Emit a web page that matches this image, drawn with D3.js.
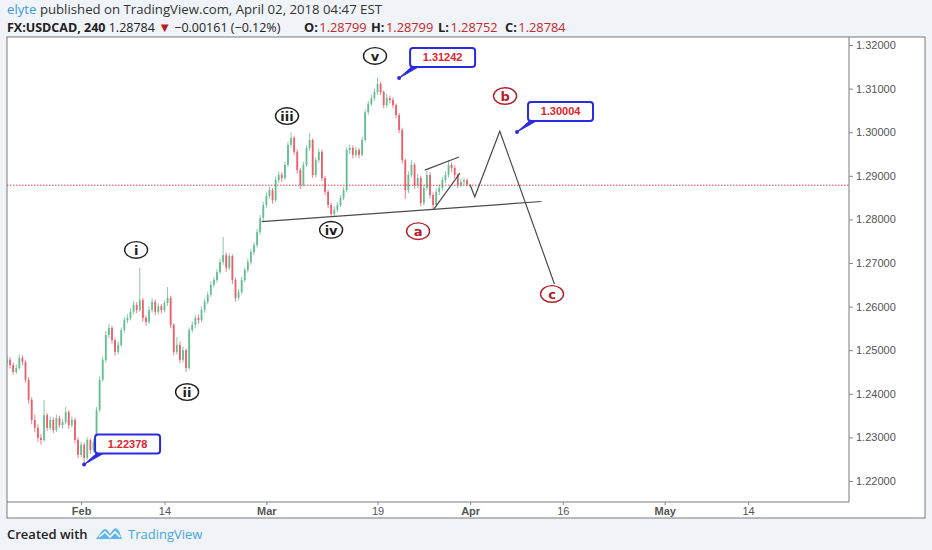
<!DOCTYPE html>
<html>
<head>
<meta charset="utf-8">
<script src="https://cdn.jsdelivr.net/npm/d3@7"></script>
<style>
  body { margin: 0; background: #f0f3f7; }
  svg { display: block; font-family: "Liberation Sans", Arial, sans-serif; }
</style>
</head>
<body>
<svg id="chart" width="932" height="550"></svg>
<script>
// --- Data: FX:USDCAD candles (3 bars per trading day, day 0 = Jan 22 2018) ---
const barsPerDay = 3;
const firstOpen = 1.2470;
const closes = [
  1.2478,1.2466,1.2450,1.2459,1.2482,1.2473,1.2432,1.2386,1.2340,1.2322,
  1.2299,1.2294,1.2351,1.2322,1.2340,1.2317,1.2344,1.2328,1.2335,1.2358,
  1.2328,1.2340,1.2294,1.2260,1.2283,1.2253,1.2294,1.2271,1.2289,1.2363,
  1.2432,1.2478,1.2535,1.2551,1.2523,1.2496,1.2512,1.2546,1.2569,1.2574,
  1.2588,1.2604,1.2592,1.2615,1.2574,1.2565,1.2592,1.2611,1.2588,1.2601,
  1.2592,1.2608,1.2620,1.2558,1.2496,1.2512,1.2478,1.2500,1.2459,1.2546,
  1.2558,1.2574,1.2569,1.2592,1.2611,1.2627,1.2650,1.2661,1.2679,1.2702,
  1.2718,1.2689,1.2716,1.2661,1.2620,1.2633,1.2661,1.2684,1.2702,1.2725,
  1.2741,1.2771,1.2803,1.2833,1.2854,1.2867,1.2844,1.2890,1.2902,1.2895,
  1.2925,1.2971,1.2987,1.2955,1.2913,1.2879,1.2925,1.2964,1.2982,1.2902,
  1.2936,1.2955,1.2895,1.2863,1.2833,1.2812,1.2822,1.2833,1.2849,1.2867,
  1.2959,1.2964,1.2948,1.2959,1.2948,1.2982,1.3046,1.3065,1.3078,1.3092,
  1.3111,1.3092,1.3062,1.3078,1.3074,1.3062,1.3039,1.3005,1.2936,1.2867,
  1.2902,1.2925,1.2879,1.2895,1.2838,1.2872,1.2902,1.2856,1.2833,1.2863,
  1.2872,1.2890,1.2902,1.2925,1.2918,1.2902,1.2879,1.2886,1.2890,1.28799,
  1.28784
];
const highs = [
  1.2486,1.2484,1.2472,1.2468,1.2490,1.2488,1.2477,1.2438,1.2392,1.2352,
  1.2330,1.2308,1.2386,1.2356,1.2348,1.2346,1.2352,1.2350,1.2342,1.2370,
  1.2362,1.2348,1.2345,1.2300,1.2290,1.2288,1.2300,1.2298,1.2296,1.2370,
  1.2440,1.2486,1.2544,1.2560,1.2556,1.2528,1.2520,1.2552,1.2576,1.2582,
  1.2596,1.2612,1.2610,1.2689,1.2620,1.2580,1.2600,1.2620,1.2616,1.2608,
  1.2606,1.2614,1.2645,1.2625,1.2562,1.2530,1.2520,1.2508,1.2504,1.2552,
  1.2566,1.2580,1.2582,1.2600,1.2618,1.2634,1.2658,1.2668,1.2686,1.2710,
  1.2760,1.2724,1.2722,1.2720,1.2666,1.2640,1.2668,1.2690,1.2710,1.2732,
  1.2748,1.2778,1.2810,1.2840,1.2862,1.2875,1.2872,1.2898,1.2910,1.2908,
  1.2932,1.2978,1.3000,1.2992,1.2960,1.2918,1.2932,1.2970,1.2998,1.2986,
  1.2942,1.2962,1.2960,1.2900,1.2868,1.2838,1.2830,1.2840,1.2856,1.2874,
  1.2966,1.2972,1.2970,1.2966,1.2964,1.2990,1.3052,1.3072,1.3086,1.3100,
  1.31242,1.3116,1.3096,1.3088,1.3084,1.3080,1.3066,1.3044,1.3010,1.2940,
  1.2910,1.2936,1.2930,1.2904,1.2900,1.2880,1.2910,1.2908,1.2862,1.2870,
  1.2880,1.2898,1.2910,1.2936,1.2930,1.2924,1.2906,1.2894,1.2896,1.2894,
  1.28799
];
const lows = [
  1.2462,1.2458,1.2444,1.2445,1.2455,1.2465,1.2426,1.2378,1.2330,1.2312,
  1.2290,1.2283,1.2290,1.2315,1.2316,1.2310,1.2312,1.2322,1.2320,1.2330,
  1.2320,1.2322,1.2286,1.2253,1.2255,1.22378,1.2248,1.2262,1.2266,1.2284,
  1.2358,1.2428,1.2472,1.2528,1.2515,1.2487,1.2490,1.2508,1.2540,1.2562,
  1.2568,1.2582,1.2585,1.2588,1.2565,1.2556,1.2560,1.2586,1.2580,1.2582,
  1.2585,1.2587,1.2602,1.2550,1.2488,1.2490,1.2470,1.2472,1.2450,1.2455,
  1.2540,1.2550,1.2560,1.2564,1.2586,1.2605,1.2622,1.2644,1.2655,1.2674,
  1.2696,1.2680,1.2684,1.2652,1.2612,1.2614,1.2628,1.2656,1.2678,1.2696,
  1.2718,1.2735,1.2765,1.2796,1.2826,1.2848,1.2836,1.2840,1.2884,1.2886,
  1.2890,1.2920,1.2965,1.2948,1.2905,1.2870,1.2875,1.2920,1.2958,1.2895,
  1.2896,1.2930,1.2888,1.2856,1.2826,1.2806,1.2808,1.2816,1.2828,1.2844,
  1.2862,1.2950,1.2940,1.2942,1.2940,1.2944,1.2978,1.3040,1.3060,1.3072,
  1.3086,1.3085,1.3055,1.3056,1.3066,1.3055,1.3032,1.2998,1.2928,1.2847,
  1.2860,1.2896,1.2870,1.2872,1.2830,1.2832,1.2866,1.2848,1.2824,1.2828,
  1.2856,1.2866,1.2884,1.2896,1.2908,1.2894,1.2872,1.2874,1.2880,1.2876,
  1.28752
];

// --- Axis ticks ---
const tickDays = [8, 17, 28, 40, 50, 60, 71, 80];
const tickLabels = ["Feb", "14", "Mar", "19", "Apr", "16", "May", "14"];
const monthTicks = ["Feb", "Mar", "Apr", "May"];
const priceTicks = [1.22, 1.23, 1.24, 1.25, 1.26, 1.27, 1.28, 1.29, 1.30, 1.31, 1.32];

// --- Drawings (day index, price) ---
const trendLine = [[27.5, 1.2795], [57.7, 1.2841]];
const wedgeUpper = [[45.1, 1.2913], [48.8, 1.2943]];
const wedgeLower = [[46.1, 1.2824], [48.9, 1.2906]];
const projection = [[50.0, 1.2879], [50.5, 1.2852], [53.2, 1.3002], [59.1, 1.2652]];

const waveLabels = ["i", "ii", "iii", "iv", "v"];
const waveDays   = [13.94, 19.44, 30.23, 34.99, 39.73];
const wavePrices = [1.2730, 1.2404, 1.3037, 1.2776, 1.3175];

const abcLabels = ["a", "b", "c"];
const abcDays   = [44.38, 53.77, 58.84];
const abcPrices = [1.2773, 1.3083, 1.2629];

const calloutText   = ["1.31242", "1.30004", "1.22378"];
const calloutDays   = [42.33, 55.06, 8.32];
const calloutPrices = [1.31242, 1.30004, 1.22378];

const lastPrice = 1.28784;

// --- Header texts ---
const ohlcLabels = ["O:", "H:", "L:", "C:"];
const ohlcValues = ["1.28799", "1.28799", "1.28752", "1.28784"];
const ohlcX = [304, 371, 438, 505];

// --- Layout ---
const svg = d3.select("#chart");
const frame = { left: 7, top: 37, right: 925, bottom: 518 };
const plot = { left: 7, top: 37, right: 849, bottom: 502 };

const x = d3.scaleLinear().domain([0, 90.9]).range([plot.left, plot.right]);
const y = d3.scaleLinear().domain([1.22, 1.32]).range([481, 45]);

// --- Header ---
const header = svg.append("g").attr("font-family", "'Open Sans', 'Noto Sans', sans-serif");
const h1 = header.append("text").attr("x", 7).attr("y", 13.5).attr("font-size", 13.2).attr("fill", "#333");
h1.append("tspan").attr("fill", "#3d9ad8").text("elyte");
h1.append("tspan").text(" published on TradingView.com, April 02, 2018 04:47 EST");

const h2 = header.append("text").attr("x", 7).attr("y", 31.5).attr("font-size", 12.5).attr("fill", "#222");
h2.append("tspan").attr("font-weight", "bold").text("FX:USDCAD, 240");
h2.append("tspan").text("  1.28784 ");
h2.append("tspan").attr("fill", "#b71c1c").attr("font-size", 13).text("▼");
h2.append("tspan").text(" −0.00161 (−0.12%)");

const h3 = header.append("text").attr("y", 31.5).attr("font-size", 12.8).attr("fill", "#222");
ohlcLabels.forEach((lab, i) => {
    h3.append("tspan").attr("x", ohlcX[i]).attr("font-weight", "bold").text(lab);
    h3.append("tspan").attr("dx", 1.5).attr("fill", "#c62828").text(ohlcValues[i]);
});

// --- Frame ---
svg.append("rect")
    .attr("x", frame.left).attr("y", frame.top)
    .attr("width", frame.right - frame.left).attr("height", frame.bottom - frame.top)
    .attr("fill", "#fff").attr("stroke", "#7a7a7a").attr("stroke-width", 1);
svg.append("path")
    .attr("d", `M${plot.right},${plot.top}V${plot.bottom}H${plot.left}`)
    .attr("fill", "none").attr("stroke", "#7a7a7a").attr("stroke-width", 1);

svg.append("clipPath").attr("id", "plotclip")
    .append("rect")
    .attr("x", plot.left).attr("y", plot.top)
    .attr("width", plot.right - plot.left).attr("height", plot.bottom - plot.top);

// --- Axes ---
const yAxis = svg.append("g")
    .attr("transform", `translate(${plot.right},0)`)
    .call(d3.axisRight(y).tickValues(priceTicks).tickFormat(d3.format(".5f")).tickSize(4).tickPadding(3));
yAxis.select(".domain").remove();
yAxis.selectAll("line").attr("stroke", "#888");
yAxis.selectAll("text").attr("fill", "#555").attr("font-size", 11)
    .attr("font-family", "'Liberation Sans', Arial, sans-serif");

const xAxis = svg.append("g")
    .attr("transform", `translate(0,${plot.bottom})`)
    .call(d3.axisBottom(x).tickValues(tickDays).tickFormat((d, i) => tickLabels[i]).tickSize(3).tickPadding(2));
xAxis.select(".domain").remove();
xAxis.selectAll("line").attr("stroke", "#888");
xAxis.selectAll("text").attr("fill", "#555").attr("font-size", 11)
    .attr("font-family", "'Liberation Sans', Arial, sans-serif")
    .attr("font-weight", (d, i) => monthTicks.includes(tickLabels[i]) ? "bold" : "normal");

// --- Candles ---
const bars = closes.map((c, i) => ({
    day: i / barsPerDay,
    open: i === 0 ? firstOpen : closes[i - 1],
    close: c,
    high: highs[i],
    low: lows[i]
}));

const g = svg.append("g").attr("clip-path", "url(#plotclip)");
const upColor = "#53b987", downColor = "#eb4d5c";

const candle = g.append("g").selectAll("g")
    .data(bars)
    .join("g")
    .attr("opacity", 0.9);
candle.append("line")
    .attr("x1", d => x(d.day)).attr("x2", d => x(d.day))
    .attr("y1", d => y(d.high)).attr("y2", d => y(d.low))
    .attr("stroke", d => d.close >= d.open ? upColor : downColor)
    .attr("stroke-width", 0.8);
candle.append("rect")
    .attr("x", d => x(d.day) - 0.9)
    .attr("width", 1.8)
    .attr("y", d => y(Math.max(d.open, d.close)))
    .attr("height", d => Math.max(1, Math.abs(y(d.open) - y(d.close))))
    .attr("fill", d => d.close >= d.open ? upColor : downColor);

// --- Last price line ---
g.append("line")
    .attr("x1", plot.left).attr("x2", plot.right)
    .attr("y1", y(lastPrice)).attr("y2", y(lastPrice))
    .attr("stroke", "#e0404c").attr("stroke-width", 1)
    .attr("stroke-dasharray", "1.5,1.5");

// --- Drawings ---
const line = d3.line().x(d => x(d[0])).y(d => y(d[1]));
[trendLine, wedgeUpper, wedgeLower, projection].forEach(pts => {
    g.append("path")
        .attr("d", line(pts))
        .attr("fill", "none")
        .attr("stroke", "#4a4a4a")
        .attr("stroke-width", 1.2);
});

// --- Wave labels ---
function circled(labels, days, prices, color) {
    const lg = g.append("g").selectAll("g")
        .data(labels)
        .join("g")
        .attr("transform", (d, i) => `translate(${x(days[i])},${y(prices[i])})`);
    lg.append("ellipse")
        .attr("rx", 11.5).attr("ry", 8.3)
        .attr("fill", "#fff")
        .attr("stroke", color).attr("stroke-width", 1.4);
    lg.append("text")
        .attr("text-anchor", "middle")
        .attr("dy", "0.36em")
        .attr("font-size", 13)
        .attr("font-weight", "bold")
        .attr("font-family", "'DejaVu Sans', sans-serif")
        .attr("fill", color)
        .text(d => d);
}
circled(waveLabels, waveDays, wavePrices, "#1e1e1e");
circled(abcLabels, abcDays, abcPrices, "#b3202a");

// --- Price callouts ---
const callout = g.append("g").selectAll("g")
    .data(calloutText)
    .join("g")
    .attr("transform", (d, i) => `translate(${x(calloutDays[i])},${y(calloutPrices[i])})`);
callout.append("path")
    .attr("d", "M0,0L13,-11.5L20,-11.5Z")
    .attr("fill", "#2a2ae0").attr("stroke", "#2a2ae0").attr("stroke-width", 1);
callout.append("circle").attr("r", 2).attr("fill", "#2a2ae0");
callout.append("rect")
    .attr("x", 11).attr("y", -30)
    .attr("width", 65).attr("height", 19).attr("rx", 3)
    .attr("fill", "#fff").attr("stroke", "#2a2ae0").attr("stroke-width", 2);
callout.append("text")
    .attr("x", 43.5).attr("y", -20.5).attr("dy", "0.35em")
    .attr("text-anchor", "middle")
    .attr("font-size", 11).attr("font-weight", "bold")
    .attr("fill", "#e0242c")
    .text(d => d);

// --- Footer ---
const footer = svg.append("g").attr("font-family", "'Open Sans', 'Noto Sans', sans-serif");
footer.append("text").attr("x", 7).attr("y", 539)
    .attr("font-size", 13).attr("font-weight", 600).attr("fill", "#222")
    .text("Created with");
const logo = footer.append("g").attr("transform", "translate(96,527)");
logo.append("path")
    .attr("d", "M0,12 L6,4 Q9,0 12,4 L14,7 L17,3 Q20,-1 23,4 L26,12 Z")
    .attr("fill", "#5db6e8");
logo.append("path")
    .attr("d", "M3,10 L9,5 L14,10 L19,5 L24,10")
    .attr("fill", "none").attr("stroke", "#fff").attr("stroke-width", 1.6);
footer.append("text").attr("x", 128).attr("y", 539)
    .attr("font-size", 13).attr("fill", "#4aa5dc")
    .text("TradingView");
</script>
</body>
</html>
